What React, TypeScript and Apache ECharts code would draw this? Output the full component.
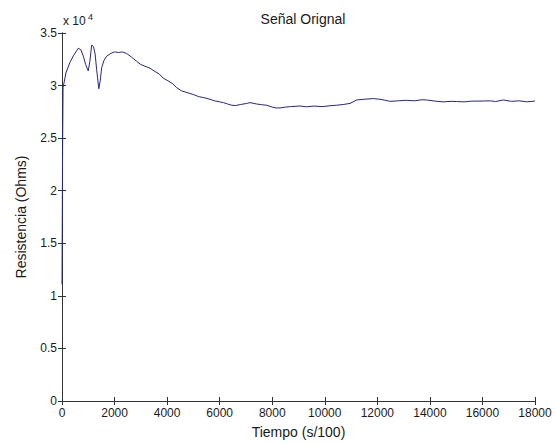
import React, { useEffect, useRef } from "react";
import * as echarts from "echarts";

const timeValues: number[] = [
  0, 20, 40, 80, 150, 300, 450, 620, 720, 810, 900, 1000, 1060, 1130, 1200, 1260, 1320, 1400, 1450, 1510, 1600,
  1700, 1850, 2000, 2150, 2300, 2462, 2650, 2842, 3000, 3200, 3349, 3500, 3700, 3855, 4000, 4200, 4365, 4550,
  4800, 4996, 5200, 5400, 5632, 5800, 6000, 6138, 6300, 6457, 6600, 6800, 7028, 7154, 7400, 7600, 7789, 8000,
  8150, 8295, 8500, 8700, 9056, 9300, 9600, 9900, 10200, 10452, 10700, 10959, 11213, 11500, 11846, 12100,
  12300, 12481, 12800, 13100, 13400, 13700, 13877, 14200, 14500, 14800, 15019, 15300, 15600, 16031, 16300,
  16500, 16792, 17100, 17400, 17700, 18000,
];

const resistanceValues: number[] = [
  11100, 23000, 29800, 30300, 31200, 32200, 32900, 33550, 33400, 32800, 32000, 31400, 32300, 33850, 33700, 33000,
  31500, 29700, 30400, 31700, 32400, 32800, 33050, 33200, 33150, 33200, 33050, 32700, 32300, 32000, 31800,
  31650, 31400, 31100, 30700, 30500, 30200, 29800, 29500, 29300, 29150, 28950, 28850, 28700, 28550, 28450,
  28380, 28250, 28130, 28100, 28200, 28300, 28380, 28250, 28180, 28130, 27950, 27870, 27870, 27950, 28000,
  28060, 27980, 28050, 28000, 28080, 28130, 28200, 28300, 28630, 28700, 28760, 28700, 28600, 28500, 28550,
  28600, 28550, 28650, 28630, 28520, 28450, 28500, 28480, 28450, 28520, 28530, 28550, 28480, 28630, 28500,
  28550, 28450, 28530,
];

const xTicks = { min: 0, max: 18000, interval: 2000 };
const yTicks = { min: 0, max: 35000, interval: 5000 };

const titleText = "Señal Orignal";
const xName = "Tiempo (s/100)";
const yName = "Resistencia (Ohms)";

export default function App() {
  const ref = useRef<HTMLDivElement>(null);

  useEffect(() => {
    if (!ref.current) return;
    const chart = echarts.init(ref.current, undefined, { renderer: "svg" });
    const font = "'Liberation Sans', Arial, sans-serif";
    const axisColor = "#333333";
    const textColor = "#1a1a1a";
    const data = timeValues.map((t, i) => [t, resistanceValues[i]]);

    const baseAxisLine = { show: true, lineStyle: { color: axisColor, width: 1 } };
    const tick = { show: true, inside: true, length: 4, lineStyle: { color: axisColor } };

    chart.setOption({
      animation: false,
      backgroundColor: "#ffffff",
      title: {
        text: titleText,
        left: 298,
        top: 7,
        textAlign: "center",
        textStyle: { fontFamily: font, fontSize: 14, fontWeight: "normal", color: textColor },
      },
      grid: { left: 62, right: 22, top: 33, bottom: 39, containLabel: false },
      xAxis: [
        {
          type: "value",
          min: xTicks.min,
          max: xTicks.max,
          interval: xTicks.interval,
          position: "bottom",
          name: xName,
          nameLocation: "middle",
          nameGap: 24,
          nameTextStyle: { fontFamily: font, fontSize: 14, color: textColor },
          axisLine: baseAxisLine,
          axisTick: tick,
          splitLine: { show: false },
          axisLabel: {
            fontFamily: font,
            fontSize: 12,
            color: textColor,
            margin: 6,
            formatter: (v: number) => String(v),
          },
        },
        {
          type: "value",
          min: xTicks.min,
          max: xTicks.max,
          interval: xTicks.interval,
          position: "top",
          axisLine: baseAxisLine,
          axisTick: tick,
          splitLine: { show: false },
          axisLabel: { show: false },
        },
      ],
      yAxis: [
        {
          type: "value",
          min: yTicks.min,
          max: yTicks.max,
          interval: yTicks.interval,
          position: "left",
          name: yName,
          nameLocation: "middle",
          nameGap: 34,
          nameTextStyle: { fontFamily: font, fontSize: 14, color: textColor },
          axisLine: baseAxisLine,
          axisTick: tick,
          splitLine: { show: false },
          axisLabel: {
            fontFamily: font,
            fontSize: 12,
            color: textColor,
            margin: 5,
            formatter: (v: number) => String(v / 10000),
          },
        },
        {
          type: "value",
          min: yTicks.min,
          max: yTicks.max,
          interval: yTicks.interval,
          position: "right",
          axisLine: baseAxisLine,
          axisTick: tick,
          splitLine: { show: false },
          axisLabel: { show: false },
        },
      ],
      graphic: [
        {
          type: "text",
          left: 63,
          top: 15,
          style: { text: "x 10", font: `12px ${font}`, fill: textColor },
        },
        {
          type: "text",
          left: 88,
          top: 12,
          style: { text: "4", font: `9px ${font}`, fill: textColor },
        },
      ],
      series: [
        {
          type: "line",
          xAxisIndex: 0,
          yAxisIndex: 0,
          data,
          showSymbol: false,
          symbol: "none",
          lineStyle: { color: "#262680", width: 1 },
        },
      ],
    });

    return () => chart.dispose();
  }, []);

  return (
    <div
      ref={ref}
      style={{ position: "fixed", left: 0, top: 0, width: 557, height: 444, background: "#fff" }}
    />
  );
}
